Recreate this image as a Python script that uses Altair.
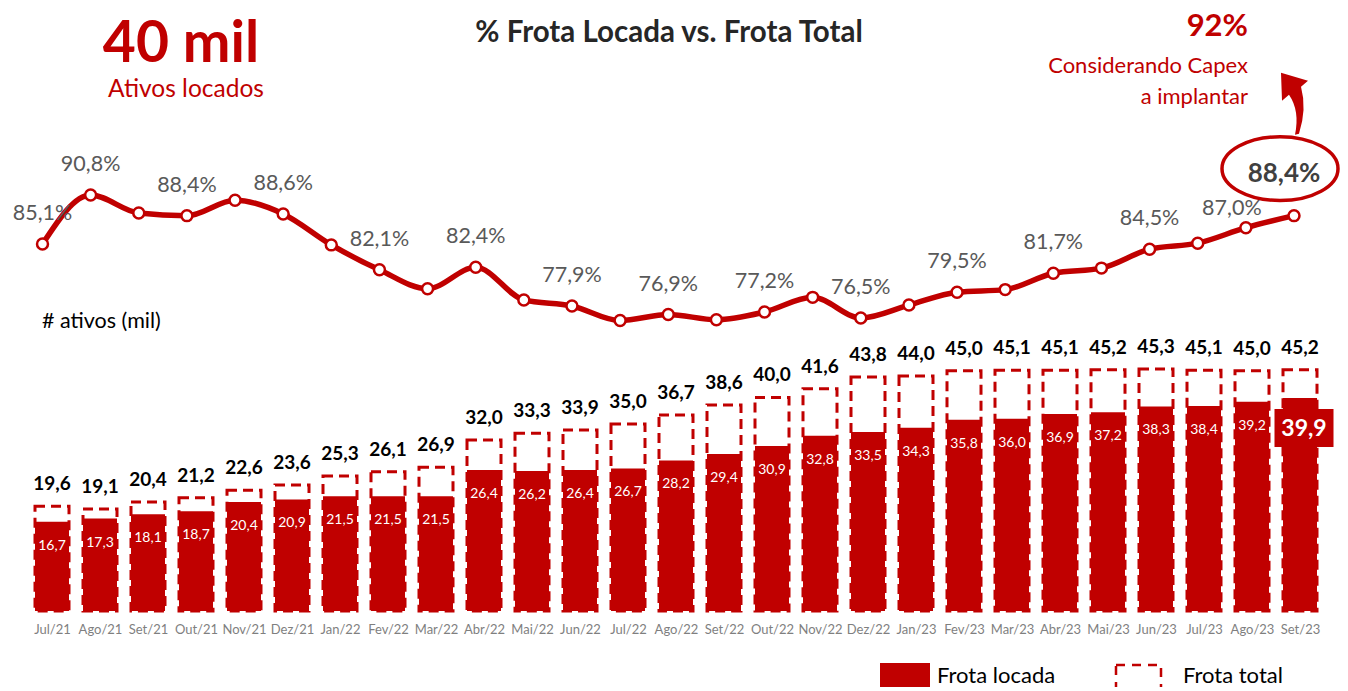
import altair as alt
import pandas as pd

RED = "#C00000"
FONT = "Lato"

months = ["Jul/21", "Ago/21", "Set/21", "Out/21", "Nov/21", "Dez/21", "Jan/22", "Fev/22", "Mar/22",
          "Abr/22", "Mai/22", "Jun/22", "Jul/22", "Ago/22", "Set/22", "Out/22", "Nov/22", "Dez/22",
          "Jan/23", "Fev/23", "Mar/23", "Abr/23", "Mai/23", "Jun/23", "Jul/23", "Ago/23", "Set/23"]
frota_total = [19.6, 19.1, 20.4, 21.2, 22.6, 23.6, 25.3, 26.1, 26.9, 32.0, 33.3, 33.9, 35.0, 36.7,
               38.6, 40.0, 41.6, 43.8, 44.0, 45.0, 45.1, 45.1, 45.2, 45.3, 45.1, 45.0, 45.2]
frota_locada = [16.7, 17.3, 18.1, 18.7, 20.4, 20.9, 21.5, 21.5, 21.5, 26.4, 26.2, 26.4, 26.7, 28.2,
                29.4, 30.9, 32.8, 33.5, 34.3, 35.8, 36.0, 36.9, 37.2, 38.3, 38.4, 39.2, 39.9]
pct_locada = [85.1, 90.8, 88.7, 88.4, 90.2, 88.6, 85.0, 82.1, 79.9, 82.4, 78.6, 77.9, 76.2, 76.9,
              76.3, 77.2, 78.9, 76.5, 78.0, 79.5, 79.8, 81.7, 82.3, 84.5, 85.2, 87.0, 88.4]
labeled_months = ["Jul/21", "Ago/21", "Out/21", "Dez/21", "Fev/22", "Abr/22", "Jun/22", "Ago/22",
                  "Out/22", "Dez/22", "Fev/23", "Abr/23", "Jun/23"]
near_label_month = "Ago/23"
highlight_month = "Set/23"


def br(v):
    return f"{v:.1f}".replace(".", ",")


df = pd.DataFrame({
    "month": months,
    "total": frota_total,
    "locada": frota_locada,
    "pct": pct_locada,
})
df["total_lbl"] = [br(v) for v in frota_total]
df["locada_lbl"] = [br(v) for v in frota_locada]
df["pct_lbl"] = [br(v) + "%" for v in pct_locada]

bar_xscale = alt.Scale(type="point", domain=months, range=[44, 1292], padding=0)
line_xscale = alt.Scale(type="point", domain=months, range=[34.5, 1286], padding=0)
x_axis = alt.X("month:N", sort=months, scale=bar_xscale,
               axis=alt.Axis(title=None, labelAngle=0, domain=False, ticks=False, grid=False,
                             labelColor="#7F7F7F", labelFontSize=13, labelFont=FONT,
                             labelPadding=12, labelOverlap=False))
x = alt.X("month:N", sort=months, scale=bar_xscale, axis=None)
xl = alt.X("month:N", sort=months, scale=line_xscale, axis=None)

bar_scale = alt.Scale(domain=[0, 50], range=[603, 336])
pct_scale = alt.Scale(domain=[76.5, 90.8], range=[310, 187])
yb_total = alt.Y("total:Q", scale=bar_scale, axis=None)
yb_loc = alt.Y("locada:Q", scale=bar_scale, axis=None)
yp = alt.Y("pct:Q", scale=pct_scale, axis=None)

base = alt.Chart(df)

total_bars = base.mark_bar(size=34, fill="white", fillOpacity=0, stroke=RED, strokeWidth=3,
                           strokeDash=[10, 6]).encode(x=x_axis, y=yb_total)
locada_bars = base.mark_bar(size=34, color=RED).encode(x=x, y=yb_loc)
total_text = base.mark_text(baseline="bottom", dy=-12, font=FONT, fontWeight="bold", fontSize=19,
                            color="black").encode(x=x, y=yb_total, text="total_lbl:N")
locada_text = base.transform_filter(alt.datum.month != highlight_month).mark_text(
    baseline="middle", dy=24, font=FONT, fontSize=14, color="white").encode(
    x=x, y=yb_loc, text="locada_lbl:N")
hl = base.transform_filter(alt.datum.month == highlight_month)
hl_box = hl.mark_point(shape="M -1 -0.644 L 1 -0.644 L 1 0.644 L -1 0.644 Z", size=3481,
                       filled=True, fill=RED, opacity=1, strokeWidth=0, xOffset=4, yOffset=30).encode(
    x=x, y=yb_loc)
hl_text = hl.mark_text(baseline="middle", dx=4, dy=31, font=FONT, fontWeight="bold", fontSize=23,
                       color="white").encode(x=x, y=yb_loc, text="locada_lbl:N")

line = base.mark_line(color=RED, strokeWidth=5.5, interpolate="monotone").encode(x=xl, y=yp)
pts = base.mark_circle(size=120, fill="white", stroke=RED, strokeWidth=2.5, opacity=1).encode(
    x=xl, y=yp)
pct_text = base.transform_filter(
    alt.FieldOneOfPredicate(field="month", oneOf=labeled_months)).mark_text(
    baseline="middle", dy=-30, font=FONT, fontSize=21.5, color="#595959").encode(
    x=xl, y=yp, text="pct_lbl:N")
near_text = base.transform_filter(alt.datum.month == near_label_month).mark_text(
    baseline="middle", dx=-14, dy=-19, font=FONT, fontSize=21.5, color="#595959").encode(
    x=xl, y=yp, text="pct_lbl:N")
hl_pct = hl.mark_text(baseline="middle", dx=-10, dy=-42, font=FONT, fontWeight="bold", fontSize=26,
                      color="#404040").encode(x=xl, y=yp, text="pct_lbl:N")
ellipse_path = ("M 1 0 C 1 0.3038 0.5523 0.55 0 0.55 C -0.5523 0.55 -1 0.3038 -1 0 "
                "C -1 -0.3038 -0.5523 -0.55 0 -0.55 C 0.5523 -0.55 1 -0.3038 1 0 Z")
hl_ellipse = hl.mark_point(shape=ellipse_path, size=13456, filled=False, stroke=RED, strokeWidth=3.5,
                           opacity=1, xOffset=-14, yOffset=-47).encode(x=xl, y=yp)
arrow_path = ("M -0.28 -0.62 L 0.26 -0.46 L 0.12 -0.34 Q 0.24 0.1 0.08 0.6 L 0 0.62 "
              "Q 0.1 0.14 -0.12 -0.18 L -0.26 -0.06 Z")
hl_arrow = hl.mark_point(shape=arrow_path, size=10000, filled=True, fill=RED, strokeWidth=0,
                         opacity=1, xOffset=1, yOffset=-112).encode(x=xl, y=yp)

one = alt.Chart(pd.DataFrame({"k": [0]}))


def txt(s, px, py, size, color="black", weight="normal", align="center"):
    return one.mark_text(text=s, font=FONT, fontSize=size, color=color, fontWeight=weight,
                         align=align, baseline="middle").encode(x=alt.value(px), y=alt.value(py))


annotations = [
    txt("40 mil", 173, 37, 57, RED, "bold"),
    txt("Ativos locados", 178, 82, 24.5, RED),
    txt("% Frota Locada vs. Frota Total", 661, 25, 29.5, "#262626", "bold"),
    txt("92%", 1240, 19, 31, RED, "bold", "right"),
    txt("Considerando Capex", 1240, 58, 22, RED, "normal", "right"),
    txt("a implantar", 1240, 89, 22, RED, "normal", "right"),
    txt("# ativos (mil)", 34, 314, 21.5, "black", "normal", "left"),
    txt("Frota locada", 929, 668, 22, "black", "normal", "left"),
    txt("Frota total", 1175, 668, 22, "black", "normal", "left"),
]
leg_solid = one.mark_rect(color=RED).encode(
    x=alt.value(872), x2=alt.value(922), y=alt.value(655), y2=alt.value(681))
leg_dash = one.mark_rect(fill="white", fillOpacity=0, stroke=RED, strokeWidth=2.5,
                         strokeDash=[9, 7]).encode(
    x=alt.value(1108), x2=alt.value(1153), y=alt.value(657), y2=alt.value(681))

chart = alt.layer(
    total_bars, locada_bars, total_text, locada_text, hl_box, hl_text,
    line, pts, pct_text, near_text, hl_pct, hl_ellipse, hl_arrow,
    *annotations, leg_solid, leg_dash
).resolve_scale(x="independent", y="independent").properties(
    width=1332, height=603,
    autosize=alt.AutoSizeParams(type="none"),
    padding={"left": 0, "top": 0, "right": 0, "bottom": 76},
).configure_view(stroke=None)

chart.save("out.html", embed_options={"renderer": "svg", "actions": False})
